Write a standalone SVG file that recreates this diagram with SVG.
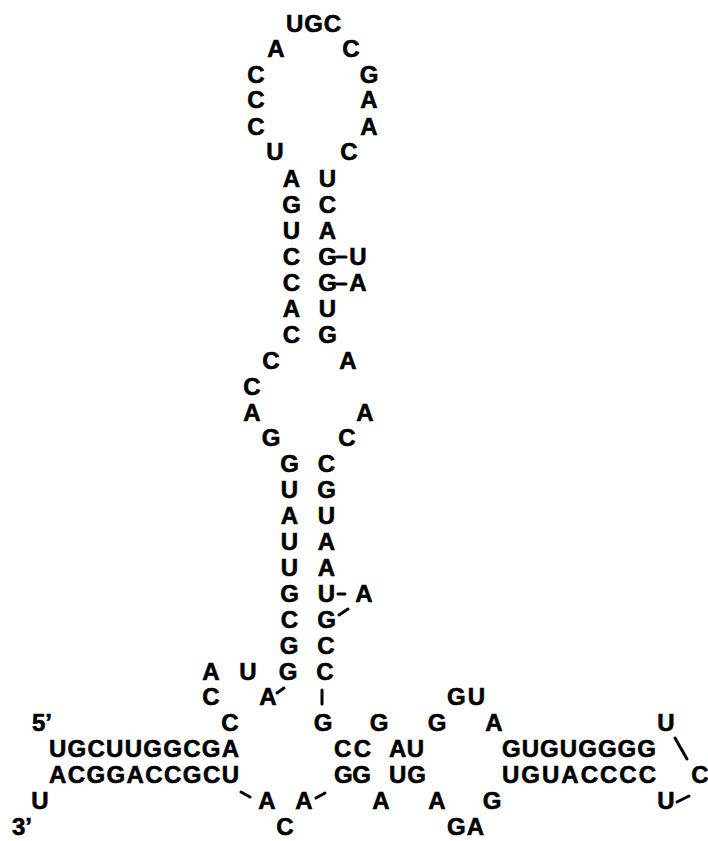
<svg xmlns="http://www.w3.org/2000/svg" width="708" height="841" viewBox="0 0 708 841">
<style>
text{font-family:"Liberation Sans",Arial,sans-serif;font-weight:bold;font-size:24px;fill:#000;stroke:#000;stroke-width:0.6;text-anchor:middle}
text.s{text-anchor:start}
.c line{stroke:#000;stroke-width:3;stroke-linecap:round}
</style>
<rect width="708" height="841" fill="#fff"/>
<g id="hairpin-loop">
<text class="s" x="286" y="32" textLength="55" lengthAdjust="spacing">UGC</text>
<text x="276" y="57">A</text><text x="351" y="57">C</text>
<text x="256" y="83">C</text><text x="369" y="83">G</text>
<text x="256" y="108">C</text><text x="369" y="108">A</text>
<text x="256" y="135">C</text><text x="369" y="135">A</text>
<text x="275" y="160">U</text><text x="349" y="160">C</text>
</g>
<g id="upper-stem">
<text x="291.5" y="187">A</text><text x="327.5" y="187">U</text>
<text x="291.5" y="213">G</text><text x="327.5" y="213">C</text>
<text x="291.5" y="239">U</text><text x="327.5" y="239">A</text>
<text x="291.5" y="265">C</text><text x="327.5" y="265">G</text><text x="358" y="265">U</text>
<text x="291.5" y="291">C</text><text x="327.5" y="291">G</text><text x="358" y="291">A</text>
<text x="291.5" y="317">A</text><text x="327.5" y="317">U</text>
<text x="291.5" y="343">C</text><text x="327.5" y="343">G</text>
</g>
<g id="internal-loop">
<text x="271" y="369">C</text><text x="348" y="369">A</text>
<text x="252" y="395">C</text>
<text x="252" y="421">A</text><text x="365" y="421">A</text>
<text x="271" y="446">G</text><text x="347" y="446">C</text>
</g>
<g id="lower-stem">
<text x="289.5" y="472">G</text><text x="326.5" y="472">C</text>
<text x="289.5" y="498">U</text><text x="326.5" y="498">G</text>
<text x="289.5" y="524">A</text><text x="326.5" y="524">U</text>
<text x="289.5" y="550">U</text><text x="326.5" y="550">A</text>
<text x="289.5" y="576">U</text><text x="326.5" y="576">A</text>
<text x="289.5" y="602">G</text><text x="326.5" y="602">U</text><text x="364" y="602">A</text>
<text x="289.5" y="628">C</text><text x="326.5" y="628">G</text>
<text x="289" y="654">G</text><text x="326" y="654">C</text>
<text x="288" y="680">G</text><text x="325" y="680">C</text>
</g>
<g id="junction-left">
<text x="211" y="680">A</text><text x="248" y="680">U</text>
<text x="211" y="705">C</text><text x="268" y="705">A</text>
<text x="230" y="731">C</text>
</g>
<g id="terminal-stem">
<text class="s" x="32" y="731">5’</text>
<text class="s" x="49" y="757" textLength="190" lengthAdjust="spacing">UGCUUGGCGA</text>
<text class="s" x="49" y="783" textLength="190" lengthAdjust="spacing">ACGGACCGCU</text>
<text x="40" y="809">U</text>
<text class="s" x="12" y="835">3’</text>
</g>
<g id="junction-bottom">
<text x="267" y="809">A</text><text x="304" y="809">A</text>
<text x="285" y="835">C</text>
<text x="323" y="731">G</text>
</g>
<g id="middle-stem">
<text class="s" x="334" y="757" textLength="37" lengthAdjust="spacing">CC</text>
<text class="s" x="389" y="757" textLength="35" lengthAdjust="spacing">AU</text>
<text class="s" x="334" y="783" textLength="37" lengthAdjust="spacing">GG</text>
<text class="s" x="389" y="783" textLength="37" lengthAdjust="spacing">UG</text>
</g>
<g id="middle-loop">
<text x="379" y="731">G</text><text x="437" y="731">G</text><text x="494" y="731">A</text>
<text class="s" x="447" y="705" textLength="38" lengthAdjust="spacing">GU</text>
<text x="381" y="809">A</text><text x="437" y="809">A</text><text x="492" y="809">G</text>
<text class="s" x="447" y="835" textLength="37" lengthAdjust="spacing">GA</text>
</g>
<g id="right-stem">
<text class="s" x="502" y="757" textLength="154" lengthAdjust="spacing">GUGUGGGG</text>
<text class="s" x="502" y="783" textLength="154" lengthAdjust="spacing">UGUACCCC</text>
</g>
<g id="right-loop">
<text x="666" y="731">U</text>
<text x="700" y="783">C</text>
<text x="666" y="809">U</text>
</g>
<g id="connectors" class="c">
<line x1="337" y1="257" x2="346" y2="257"/>
<line x1="337" y1="284" x2="346" y2="284"/>
<line x1="338" y1="594" x2="345" y2="594"/>
<line x1="339" y1="615" x2="348" y2="609"/>
<line x1="277" y1="693" x2="284" y2="688"/>
<line x1="322" y1="690" x2="322" y2="704"/>
<line x1="241" y1="792" x2="250" y2="797"/>
<line x1="316" y1="798" x2="325" y2="793"/>
<line x1="675" y1="738" x2="687" y2="759"/>
<line x1="677" y1="802" x2="689" y2="796"/>
</g>
</svg>
